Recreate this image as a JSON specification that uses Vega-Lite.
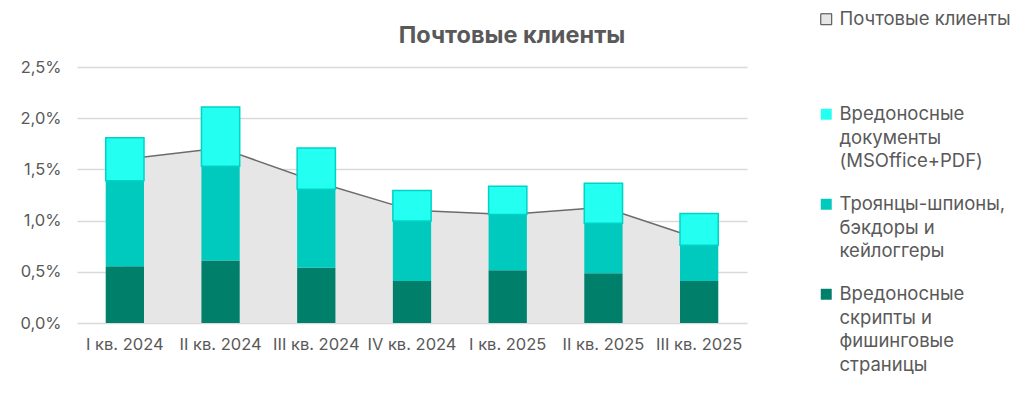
{
  "$schema": "https://vega.github.io/schema/vega-lite/v6.json",
  "autosize": {"type": "none"},
  "width": 670,
  "height": 256,
  "padding": {"left": 77, "top": 67, "right": 277, "bottom": 70},
  "background": "white",
  "title": {"text": "Почтовые клиенты", "anchor": "middle", "fontSize": 23.5, "fontWeight": "bold", "color": "#595959", "font": "Inter", "offset": 0, "baseline": "alphabetic", "dy": 56, "dx": 100},
  "config": {
    "locale": {"number": {"decimal": ",", "thousands": " ", "grouping": [3], "currency": ["", " ₽"]}},
    "view": {"stroke": null},
    "font": "Inter",
    "style": {"guide-label": {"lineHeight": 23.5}}
  },
  "datasets": {
    "bars": [
      {"q": "I кв. 2024", "series": "Вредоносные скрипты и фишинговые страницы", "rank": 1, "v": 0.00555},
      {"q": "I кв. 2024", "series": "Троянцы-шпионы, бэкдоры и кейлоггеры", "rank": 2, "v": 0.00835},
      {"q": "I кв. 2024", "series": "Вредоносные документы (MSOffice+PDF)", "rank": 3, "v": 0.0042},
      {"q": "II кв. 2024", "series": "Вредоносные скрипты и фишинговые страницы", "rank": 1, "v": 0.0061},
      {"q": "II кв. 2024", "series": "Троянцы-шпионы, бэкдоры и кейлоггеры", "rank": 2, "v": 0.0092},
      {"q": "II кв. 2024", "series": "Вредоносные документы (MSOffice+PDF)", "rank": 3, "v": 0.0058},
      {"q": "III кв. 2024", "series": "Вредоносные скрипты и фишинговые страницы", "rank": 1, "v": 0.0054},
      {"q": "III кв. 2024", "series": "Троянцы-шпионы, бэкдоры и кейлоггеры", "rank": 2, "v": 0.00765},
      {"q": "III кв. 2024", "series": "Вредоносные документы (MSOffice+PDF)", "rank": 3, "v": 0.00405},
      {"q": "IV кв. 2024", "series": "Вредоносные скрипты и фишинговые страницы", "rank": 1, "v": 0.0041},
      {"q": "IV кв. 2024", "series": "Троянцы-шпионы, бэкдоры и кейлоггеры", "rank": 2, "v": 0.00585},
      {"q": "IV кв. 2024", "series": "Вредоносные документы (MSOffice+PDF)", "rank": 3, "v": 0.003},
      {"q": "I кв. 2025", "series": "Вредоносные скрипты и фишинговые страницы", "rank": 1, "v": 0.00515},
      {"q": "I кв. 2025", "series": "Троянцы-шпионы, бэкдоры и кейлоггеры", "rank": 2, "v": 0.00545},
      {"q": "I кв. 2025", "series": "Вредоносные документы (MSOffice+PDF)", "rank": 3, "v": 0.00275},
      {"q": "II кв. 2025", "series": "Вредоносные скрипты и фишинговые страницы", "rank": 1, "v": 0.00485},
      {"q": "II кв. 2025", "series": "Троянцы-шпионы, бэкдоры и кейлоггеры", "rank": 2, "v": 0.0049},
      {"q": "II кв. 2025", "series": "Вредоносные документы (MSOffice+PDF)", "rank": 3, "v": 0.0039},
      {"q": "III кв. 2025", "series": "Вредоносные скрипты и фишинговые страницы", "rank": 1, "v": 0.0041},
      {"q": "III кв. 2025", "series": "Троянцы-шпионы, бэкдоры и кейлоггеры", "rank": 2, "v": 0.0035},
      {"q": "III кв. 2025", "series": "Вредоносные документы (MSOffice+PDF)", "rank": 3, "v": 0.0031}
    ],
    "area": [
      {"q": "I кв. 2024", "v": 0.0160},
      {"q": "II кв. 2024", "v": 0.0171},
      {"q": "III кв. 2024", "v": 0.0138},
      {"q": "IV кв. 2024", "v": 0.0110},
      {"q": "I кв. 2025", "v": 0.0106},
      {"q": "II кв. 2025", "v": 0.0113},
      {"q": "III кв. 2025", "v": 0.0082}
    ]
  },
  "encoding": {
    "x": {
      "field": "q", "type": "nominal", "sort": null, "title": null,
      "scale": {"domain": ["I кв. 2024", "II кв. 2024", "III кв. 2024", "IV кв. 2024", "I кв. 2025", "II кв. 2025", "III кв. 2025"], "paddingInner": 0.6, "paddingOuter": 0.3},
      "axis": {"labelAngle": 0, "ticks": false, "domain": false, "labelFontSize": 16.5, "labelColor": "#595959", "labelPadding": 13, "labelFont": "Inter"}
    }
  },
  "layer": [
    {
      "data": {"name": "area"},
      "mark": {"type": "area", "opacity": 1},
      "encoding": {
        "y": {
          "field": "v", "type": "quantitative", "title": null,
          "scale": {"domain": [0, 0.025], "nice": false},
          "axis": {"format": ".1%", "values": [0, 0.005, 0.01, 0.015, 0.02, 0.025], "domain": false, "ticks": false, "gridColor": "#d9d9d9", "gridWidth": 1.5, "labelFontSize": 16.5, "labelColor": "#595959", "labelPadding": 16, "labelFont": "Inter"}
        },
        "fill": {
          "datum": "Почтовые клиенты",
          "scale": {"range": ["#E6E6E6"]},
          "legend": {"title": null, "orient": "none", "legendX": 740, "legendY": -57, "symbolType": "square", "symbolSize": 120, "symbolStrokeColor": "#404040", "symbolStrokeWidth": 1, "labelFontSize": 18.5, "labelColor": "#595959", "labelFont": "Inter", "labelOffset": 4, "labelLimit": 300}
        }
      }
    },
    {
      "data": {"name": "area"},
      "mark": {"type": "line", "color": "#6b6b6b", "strokeWidth": 1.5},
      "encoding": {
        "y": {"field": "v", "type": "quantitative"}
      }
    },
    {
      "data": {"name": "bars"},
      "mark": {"type": "bar", "stroke": "#00D3C6"},
      "encoding": {
        "y": {"field": "v", "type": "quantitative", "stack": "zero"},
        "order": {"field": "rank", "type": "quantitative"},
        "strokeWidth": {"condition": {"test": "datum.rank == 3", "value": 1.5}, "value": 0},
        "color": {
          "field": "series", "type": "nominal",
          "scale": {
            "domain": ["Вредоносные документы (MSOffice+PDF)", "Троянцы-шпионы, бэкдоры и кейлоггеры", "Вредоносные скрипты и фишинговые страницы"],
            "range": ["#23FFF0", "#00C9BE", "#00806B"]
          },
          "legend": {
            "title": null, "orient": "none", "legendX": 740, "legendY": 38,
            "symbolType": "square", "symbolSize": 120, "symbolStrokeWidth": 0,
            "labelFontSize": 18.5, "labelColor": "#595959", "labelFont": "Inter", "labelOffset": 4,
            "labelLimit": 300, "rowPadding": 24, "labelBaseline": "middle",
            "labelExpr": "datum.label == 'Вредоносные документы (MSOffice+PDF)' ? ['Вредоносные', 'документы', '(MSOffice+PDF)'] : datum.label == 'Троянцы-шпионы, бэкдоры и кейлоггеры' ? ['Троянцы-шпионы,', 'бэкдоры и', 'кейлоггеры'] : ['Вредоносные', 'скрипты и', 'фишинговые', 'страницы']"
          }
        }
      }
    }
  ],
  "resolve": {"scale": {"color": "independent", "fill": "independent"}}
}
